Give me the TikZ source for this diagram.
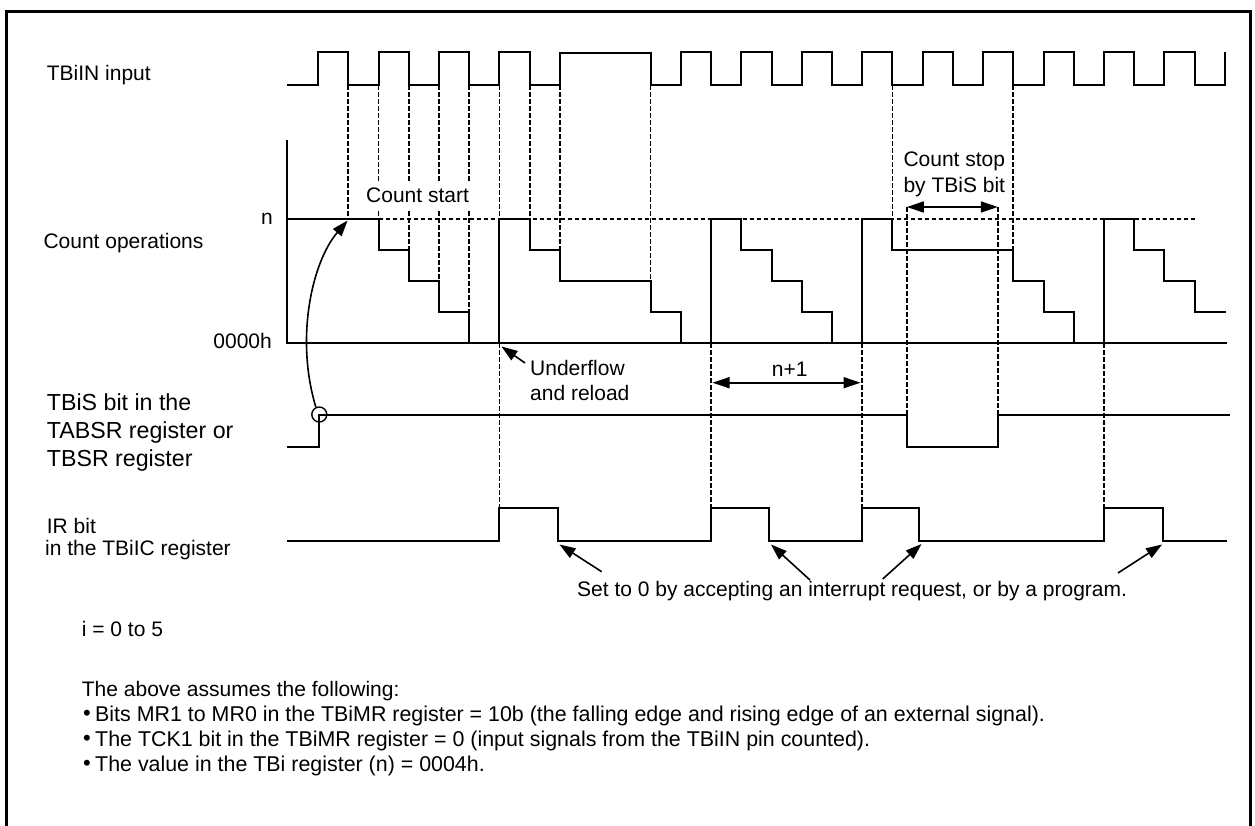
\documentclass[tikz,border=0pt]{standalone}
\usepackage{fontspec}
\setmainfont{Liberation Sans}
\usetikzlibrary{arrows.meta}
\begin{document}
\begin{tikzpicture}[x=1pt,y=-1pt,
  wave/.style={line width=2pt, line join=miter},
  dsh/.style={line width=1.8pt, dash pattern=on 4.5pt off 2.5pt},
  lab/.style={font=\fontsize{21}{25}\selectfont, inner sep=0pt, anchor=base west},
  biglab/.style={font=\fontsize{23.2}{28}\selectfont, inner sep=0pt, anchor=base west},
  notelab/.style={font=\fontsize{21.4}{25}\selectfont, inner sep=0pt, anchor=base west},
  arr/.style={line width=1.6pt, -{Triangle[length=16pt,width=11pt]}},
  darr/.style={line width=1.6pt, {Triangle[length=17pt,width=11pt]}-{Triangle[length=17pt,width=11pt]}},
]
\useasboundingbox (0,0) rectangle (1255,825);
% frame
\draw[line width=3pt] (6.7,830) -- (6.7,11.7) -- (1250.5,11.7) -- (1250.5,830);

% ---------- dashed guide lines ----------
\draw[dsh] (378.5,219.3) -- (1195,219.3);
\foreach \x/\ya/\yb in {348.2/85/219, 378.5/85/219, 408.7/85/250, 438.9/85/281, 469.2/85/312,
  499.4/85/219, 529.6/85/219, 559.8/85/250, 650.5/85/281, 892.4/85/219, 1013.3/85/250,
  499.4/343/508, 711/343/508, 862.1/343/508, 1104/343/508,
  906.8/207/415, 997.8/207/415}
  \draw[dsh] (\x,\ya) -- (\x,\yb);

% ---------- TBiIN input ----------
\draw[wave] (287,85) -- (318,85) -- (318,52) -- (348.2,52) -- (348.2,85) -- (378.5,85) -- (378.5,52)
  -- (408.7,52) -- (408.7,85) -- (438.9,85) -- (438.9,52) -- (469.2,52) -- (469.2,85)
  -- (499.4,85) -- (499.4,52) -- (529.6,52) -- (529.6,85) -- (559.8,85) -- (559.8,53)
  -- (650.5,53) -- (650.5,85) -- (680.8,85) -- (680.8,52) -- (711,52) -- (711,85)
  -- (741.2,85) -- (741.2,52) -- (771.5,52) -- (771.5,85) -- (801.7,85) -- (801.7,52)
  -- (831.9,52) -- (831.9,85) -- (862.1,85) -- (862.1,52) -- (892.4,52) -- (892.4,85)
  -- (922.6,85) -- (922.6,52) -- (952.8,52) -- (952.8,85) -- (983.1,85) -- (983.1,52)
  -- (1013.3,52) -- (1013.3,85) -- (1043.5,85) -- (1043.5,52) -- (1073.8,52) -- (1073.8,85)
  -- (1104,85) -- (1104,52) -- (1134.2,52) -- (1134.2,85) -- (1164.4,85) -- (1164.4,52)
  -- (1194.7,52) -- (1194.7,85) -- (1224.9,85) -- (1224.9,52);

% ---------- Count operations ----------
\draw[wave] (287,140) -- (287,343.3) -- (1227,343.3);
\draw[wave] (287,219.3) -- (378.5,219.3) -- (378.5,250) -- (408.7,250) -- (408.7,281) -- (438.9,281)
  -- (438.9,312) -- (469.2,312) -- (469.2,343.3);
\draw[wave] (499.4,343.3) -- (499.4,219.3) -- (529.6,219.3) -- (529.6,250) -- (559.8,250)
  -- (559.8,281) -- (650.5,281) -- (650.5,312) -- (680.8,312) -- (680.8,343.3);
\draw[wave] (711,343.3) -- (711,219.3) -- (741.2,219.3) -- (741.2,250) -- (771.5,250)
  -- (771.5,281) -- (801.7,281) -- (801.7,312) -- (831.9,312) -- (831.9,343.3);
\draw[wave] (862.1,343.3) -- (862.1,219.3) -- (892.4,219.3) -- (892.4,250) -- (1013.3,250)
  -- (1013.3,281) -- (1043.5,281) -- (1043.5,312) -- (1073.8,312) -- (1073.8,343.3);
\draw[wave] (1104,343.3) -- (1104,219.3) -- (1134.2,219.3) -- (1134.2,250) -- (1164.4,250)
  -- (1164.4,281) -- (1194.7,281) -- (1194.7,312) -- (1226,312);

% ---------- TBiS ----------
\draw[wave] (287,447.3) -- (319.3,447.3) -- (319.3,414.5) -- (906.8,414.5) -- (906.8,447.3)
  -- (997.8,447.3) -- (997.8,414.5) -- (1230,414.5);
\node[circle, draw, line width=1.4pt, minimum size=15pt, inner sep=0pt] (circ) at (319.3,414.5) {};
\coordinate (cstart) at (347.6,220.5);
\draw[arr] (circ.115) .. controls (295,338) and (312,262) .. (cstart);

% ---------- IR bit ----------
\draw[wave] (287,540.7) -- (499.4,540.7) -- (499.4,508) -- (557.7,508) -- (557.7,540.7)
  -- (711,540.7) -- (711,508) -- (769,508) -- (769,540.7) -- (862.1,540.7) -- (862.1,508)
  -- (919.3,508) -- (919.3,540.7) -- (1104,540.7) -- (1104,508) -- (1163,508) -- (1163,540.7)
  -- (1227,540.7);

% ---------- labels ----------
\node[lab] (tin) at (46.7,80) {TBiIN input};
\node[lab] (cop) at (43.3,248) {Count operations};
\node[lab, anchor=base] (nlab) at (267,224) {n};
\node[lab, anchor=base east] (zlab) at (272,348.3) {0000h};
\node[biglab] (s1) at (46.7,410) {TBiS bit in the};
\node[biglab] (s2) at (46.7,438.3) {TABSR register or};
\node[biglab] (s3) at (46.7,466.7) {TBSR register};
\node[lab] (ir1) at (46.7,533) {IR bit};
\node[lab] (ir2) at (45,555.5) {in the TBiIC register};

\node[lab, fill=white, inner xsep=2pt, inner ysep=6pt] (cstartlab) at (364,202.7) {Count start};
\node[lab] (stop1) at (903.3,166) {Count stop};
\node[lab] (stop2) at (903.3,192.5) {by TBiS bit};
\coordinate (sa) at (906.8,207);
\coordinate (sb) at (997.8,207);
\draw[darr] (sa) -- (sb);

\node[lab] (uf1) at (530,375) {Underflow};
\node[lab] (uf2) at (530,400) {and reload};
\coordinate (ufa) at (525,363);
\coordinate (ufb) at (501.5,346.5);
\draw[arr] (ufa) -- (ufb);

\node[lab] (np1) at (771.7,376) {n+1};
\coordinate (na) at (712.5,382.7);
\coordinate (nb) at (860.5,382.7);
\draw[darr] (na) -- (nb);

\node[lab] (set0) at (577,596.7) {Set to 0 by accepting an interrupt request, or by a program.};
\coordinate (t1) at (601.7,571.7); \coordinate (h1) at (559.5,544.5);
\coordinate (t2) at (810,580);     \coordinate (h2) at (771,544.5);
\coordinate (t3) at (882.7,579);   \coordinate (h3) at (921.5,544);
\coordinate (t4) at (1118,573);    \coordinate (h4) at (1162,544.5);
\draw[arr] (t1) -- (h1);
\draw[arr] (t2) -- (h2);
\draw[arr] (t3) -- (h3);
\draw[arr] (t4) -- (h4);

\node[lab] (ieq) at (81.7,636.7) {i = 0 to 5};
\node[lab] (assume) at (81.7,696.7) {The above assumes the following:};
\foreach \yy/\tt [count=\i] in {721.7/{Bits MR1 to MR0 in the TBiMR register = 10b (the falling edge and rising edge of an external signal).},
  746.7/{The TCK1 bit in the TBiMR register = 0 (input signals from the TBiIN pin counted).},
  771.7/{The value in the TBi register (n) = 0004h.}}{
  \node[notelab, font=\fontsize{22}{25}\selectfont] (b\i) at (83,\yy-1) {\textbullet};
  \node[notelab] (bt\i) at (95,\yy) {\tt};
}
\end{tikzpicture}
\end{document}
